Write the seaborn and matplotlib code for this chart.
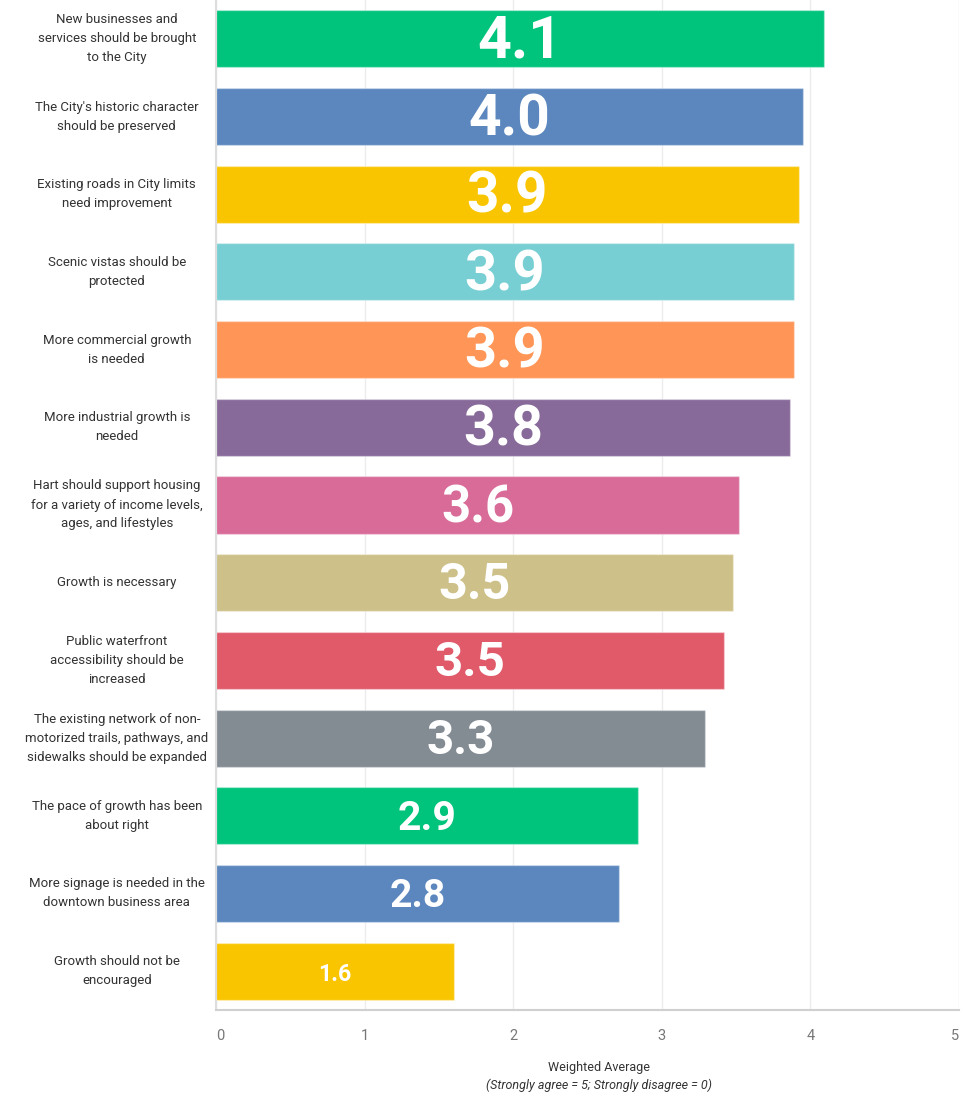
import numpy as np
import pandas as pd
import matplotlib.pyplot as plt
import seaborn as sns

#%% data
categories = [
    "New businesses and\nservices should be brought\nto the City",
    "The City's historic character\nshould be preserved",
    "Existing roads in City limits\nneed improvement",
    "Scenic vistas should be\nprotected",
    "More commercial growth\nis needed",
    "More industrial growth is\nneeded",
    "Hart should support housing\nfor a variety of income levels,\nages, and lifestyles",
    "Growth is necessary",
    "Public waterfront\naccessibility should be\nincreased",
    "The existing network of non-\nmotorized trails, pathways, and\nsidewalks should be expanded",
    "The pace of growth has been\nabout right",
    "More signage is needed in the\ndowntown business area",
    "Growth should not be\nencouraged",
]
values = [4.09, 3.95, 3.92, 3.89, 3.89, 3.86, 3.52, 3.48, 3.42, 3.29, 2.84, 2.71, 1.60]
value_labels = ["4.1", "4.0", "3.9", "3.9", "3.9", "3.8", "3.6", "3.5", "3.5", "3.3", "2.9", "2.8", "1.6"]
colors = ["#00c47b", "#5b87be", "#f9c500", "#78cfd3", "#ff9658", "#876a9a",
          "#d96b99", "#cdc088", "#e05a69", "#838b93", "#00c47b", "#5b87be", "#f9c500"]
xticks = [0, 1, 2, 3, 4, 5]

df = pd.DataFrame({"statement": categories, "avg": values})

#%% plot
sns.set_style("white")
plt.rcParams['font.family'] = ['Roboto', 'DejaVu Sans']

fig = plt.figure(figsize=(9.72, 10.95), dpi=100)
ax = fig.add_axes([216 / 972, 1 - 1010 / 1095, (959 - 216) / 972, 1010 / 1095])

sns.barplot(data=df, x="avg", y="statement", hue="statement", palette=colors,
            legend=False, width=0.735, orient="h", ax=ax, saturation=1)

for p in ax.patches:
    p.set_edgecolor((1, 1, 1, 0.35))
    p.set_linewidth(1)

ax.set_xlim(0, 5)
ax.set_ylim(len(categories) - 0.5, -0.5)
ax.set_xticks(xticks)
ax.set_xticklabels([str(t) for t in xticks], color="#777777", fontsize=10.5)
ax.tick_params(axis="x", length=0, pad=14)
xl = ax.get_xticklabels()
xl[0].set_ha("left")
xl[-1].set_ha("right")
ax.set_yticks([])
ax.set_xlabel("")
ax.set_ylabel("")
ax.grid(axis="x", color="#ececec", linewidth=1)
ax.set_axisbelow(True)
for s in ["top", "right"]:
    ax.spines[s].set_visible(False)
ax.spines["left"].set_color("#dddddd")
ax.spines["bottom"].set_color("#d0d0d0")
ax.spines["left"].set_linewidth(1.5)
ax.spines["bottom"].set_linewidth(1.5)

# category labels
for i, lab in enumerate(categories):
    ax.text(-0.1335, i, lab, transform=ax.get_yaxis_transform(), ha="center",
            va="center", fontsize=9.5, color="#333333", linespacing=1.6)

# value labels, size grows with value
for i, (v, lab) in enumerate(zip(values, value_labels)):
    ax.text(v / 2, i + 0.04, lab, ha="center", va="center", color="white",
            fontweight="bold", fontsize=10.4 * v)

fig.text(599 / 972, 1 - 1067 / 1095, "Weighted Average", ha="center", va="center",
         fontsize=9, color="#333333")
fig.text(599 / 972, 1 - 1085 / 1095, "(Strongly agree = 5; Strongly disagree = 0)",
         ha="center", va="center", fontsize=9, color="#333333", style="italic")

fig.savefig("out.png", dpi=100)
